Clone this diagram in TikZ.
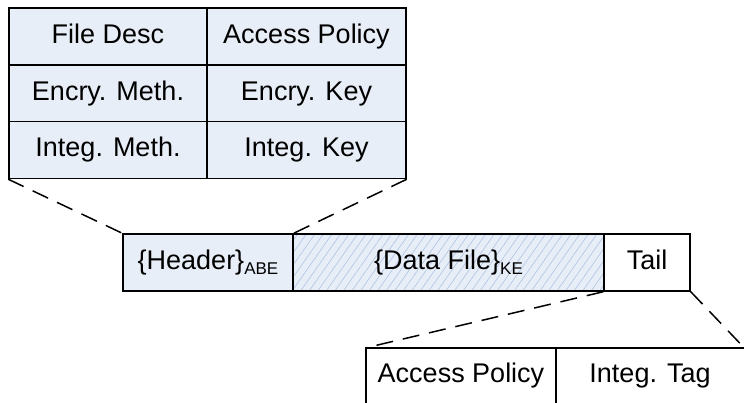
\documentclass[tikz,border=0pt]{standalone}
\usepackage{fontspec}
\setmainfont{Liberation Sans}
\usetikzlibrary{patterns.meta}
\definecolor{cellblue}{HTML}{E8EEF7}
\definecolor{hatchblue}{HTML}{AFC3E3}
\newcommand{\subtxt}[1]{\raisebox{-0.35ex}{\fontsize{17}{17}\selectfont #1}}
\tikzset{
  frame/.style={line width=1.5pt, line cap=rect},
  txt/.style={font=\fontsize{27}{30}\selectfont, text height=19pt, text depth=5pt, inner sep=0pt},
  cell/.style={draw, frame, fill=cellblue, minimum height=57pt, txt},
  topcell/.style={cell, minimum width=198pt},
  topcellr/.style={cell, minimum width=199pt},
  barcell/.style={draw, frame, minimum height=57pt, txt},
  lcell/.style={draw=none, minimum height=54pt, txt},
  zoomline/.style={line width=1.5pt, dash pattern=on 17pt off 10pt}
}
\begin{document}
\begin{tikzpicture}[x=1pt,y=-1pt]
\useasboundingbox (0,0) rectangle (744,403);
\clip (0,0) rectangle (744,403);
% top table
\node[topcell]  (fd) at (108,36.5) {File Desc};
\node[topcellr] (ap) at (306.5,36.5) {Access Policy};
\node[topcell]  (em) at (108,93.5) {Encry. Meth.};
\node[topcellr] (ek) at (306.5,93.5) {Encry. Key};
\node[topcell]  (im) at (108,150) {Integ. Meth.};
\node[topcellr] (ik) at (306.5,150) {Integ. Key};
% middle bar
\node[barcell, fill=cellblue, minimum width=170pt] (hd) at (208,262.5) {\{Header\}\subtxt{ABE}};
\path[fill=cellblue] (293,234) rectangle (604,291);
\path[pattern={Lines[angle=55,distance=7pt,line width=0.6pt]}, pattern color=hatchblue] (293,234) rectangle (604,291);
\node[barcell, minimum width=311pt] (df) at (448.5,262.5) {\{Data File\}\subtxt{KE}};
\node[barcell, fill=white, minimum width=86pt] (tl) at (647,262.5) {Tail};
% lower table (cut off by the picture's edge)
\node[lcell, minimum width=190pt] (lap) at (461,375) {Access Policy};
\node[lcell, minimum width=188pt] (lit) at (650,375) {Integ. Tag};
\draw[frame] ([yshift=-12pt]lap.south west) -- (lap.north west) -- ([xshift=10pt]lit.north east);
\draw[frame] ([yshift=-12pt]lap.south east) -- (lap.north east);
% zoom lines
\draw[zoomline] (im.south west) -- (hd.north west);
\draw[zoomline] (ik.south east) -- (hd.north east);
\draw[zoomline] (tl.south west) -- (lap.north west);
\draw[zoomline] (tl.south east) -- (lit.north east);
\end{tikzpicture}
\end{document}
